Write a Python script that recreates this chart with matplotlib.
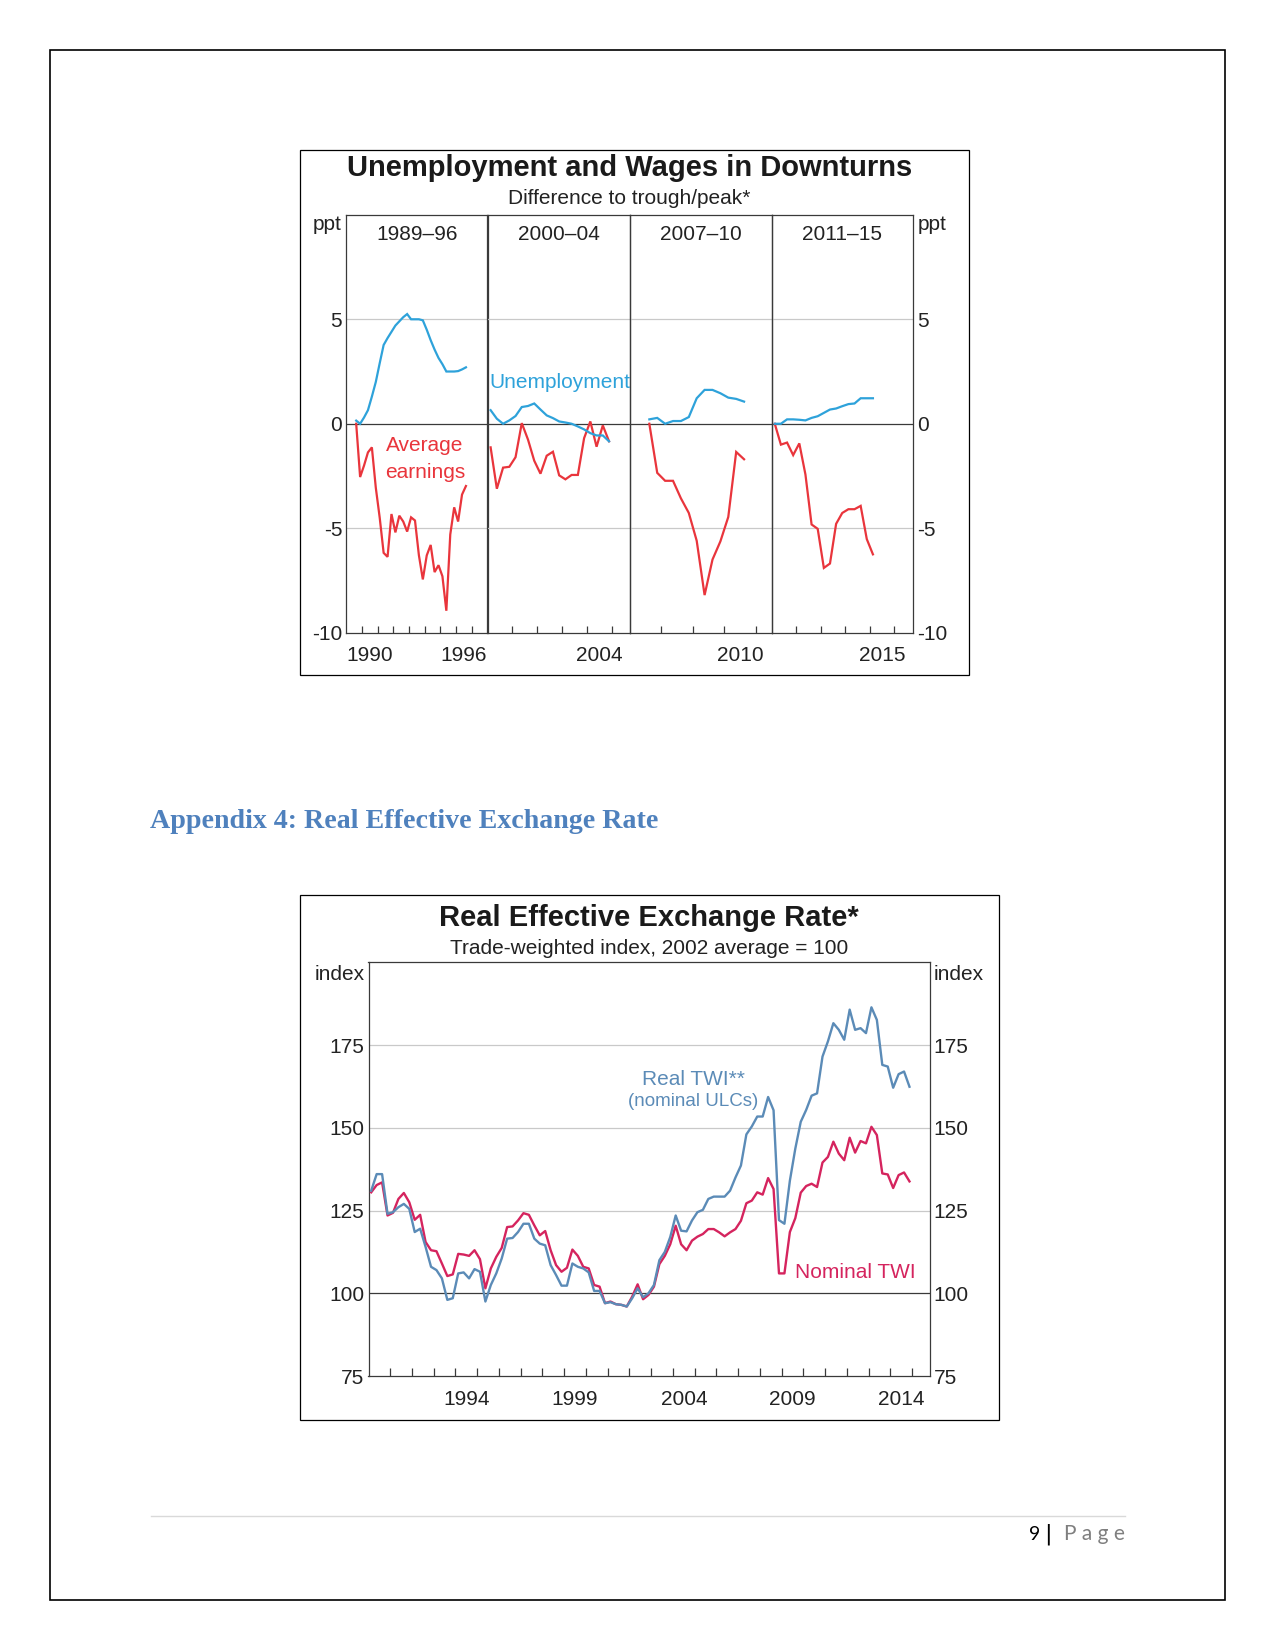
import matplotlib
matplotlib.use('Agg')
import matplotlib.pyplot as plt
from matplotlib.patches import Rectangle
from matplotlib.lines import Line2D

W, H = 1275, 1651
plt.rcParams['font.family'] = ['Liberation Sans', 'DejaVu Sans']

# ---------------- Chart 1 data: Unemployment and Wages in Downturns ----------------
panel_labels = ['1989–96', '2000–04', '2007–10', '2011–15']
panel_starts = [1989.625, 2000.125, 2007.625, 2011.125]  # first quarter (mid-quarter)
unemp_8996 = [0.15, 0.0, 0.3, 0.65, 1.3, 2.0, 2.9, 3.77, 4.1, 4.4, 4.7, 4.9, 5.1, 5.25,
              5.0, 5.0, 5.0, 4.95, 4.5, 4.0, 3.55, 3.15, 2.85, 2.5, 2.5, 2.5, 2.52, 2.6, 2.7]
earn_8996 = [0, -2.55, -2.0, -1.37, -1.13, -3.06, -4.5, -6.18, -6.37, -4.32, -5.2, -4.4,
             -4.68, -5.16, -4.48, -4.63, -6.3, -7.45, -6.3, -5.8, -7.1, -6.77, -7.3, -8.95,
             -5.3, -4.0, -4.68, -3.39, -2.98]
unemp_0004 = [0.65, 0.24, 0.0, 0.16, 0.37, 0.8, 0.85, 0.97, 0.68, 0.4, 0.27, 0.11, 0.06,
              0.0, -0.13, -0.27, -0.45, -0.56, -0.56, -0.84]
earn_0004 = [-1.13, -3.11, -2.1, -2.06, -1.6, 0.03, -0.76, -1.77, -2.39, -1.53, -1.34,
             -2.47, -2.66, -2.45, -2.45, -0.69, 0.11, -1.1, -0.08, -0.84]
unemp_0710 = [0.21, 0.28, 0.0, 0.13, 0.13, 0.32, 1.22, 1.62, 1.62, 1.46, 1.25, 1.19, 1.06]
earn_0710 = [0.0, -2.35, -2.73, -2.73, -3.57, -4.27, -5.6, -8.2, -6.5, -5.63, -4.46, -1.35, -1.7]
unemp_1115 = [0, 0, 0.21, 0.21, 0.19, 0.16, 0.28, 0.36, 0.52, 0.68, 0.73, 0.84, 0.94, 0.97,
              1.22, 1.22, 1.22]
earn_1115 = [0, -1.0, -0.9, -1.5, -0.94, -2.43, -4.82, -5.03, -6.9, -6.69, -4.79, -4.27,
             -4.09, -4.09, -3.93, -5.52, -6.25]
panel_xlims = [(1989, 1998), (2000, 2005.7), (2007, 2011.5), (2011, 2016.75)]
panel_year_ticks = [list(range(1990, 1998)), list(range(2001, 2006)),
                    list(range(2008, 2012)), list(range(2012, 2017))]
panel_year_labels = [['1990', '1996'], ['2004'], ['2010'], ['2015']]
c1_yticks = [-10, -5, 0, 5]
c1_yticklabels = ['-10', '-5', '0', '5']

# ---------------- Chart 2 data: Real Effective Exchange Rate ----------------
twi_start = 1990.125  # 1990 Q1, quarterly to 2014 Q4
real_twi = [131, 136, 136, 124, 124.5, 126, 127, 125.5, 118.5, 119.5, 114, 108, 107, 104.5,
            98, 98.5, 106, 106.3, 104.5, 107.3, 106.5, 97.5, 102.5, 106, 110.5, 116.5, 116.7,
            118.5, 121, 121, 116.5, 115, 114.5, 108.5, 105.5, 102.3, 102.3, 109, 108, 107.5,
            106.3, 100.7, 100.7, 97, 97.3, 96.7, 96.5, 96, 98.5, 101.5, 98.8, 100, 102.5,
            110, 112.5, 117, 123.5, 118.9, 118.7, 122, 124.5, 125.2, 128.5, 129.2, 129.2,
            129.2, 131, 135, 138.6, 148, 150.4, 153.4, 153.4, 159.3, 155.3, 122.1, 121, 134,
            143.7, 151.8, 155.4, 159.7, 160.4, 171.5, 176.1, 181.6, 179.6, 176.6, 185.7,
            179.6, 180.1, 178.6, 186.4, 182.6, 169, 168.5, 162.1, 166.2, 167, 162.4]
nominal_twi = [130.5, 132.7, 133.5, 123.5, 124.3, 128.5, 130.3, 127.5, 122.2, 123.7, 115.5,
               113, 112.7, 109, 105.2, 105.7, 111.9, 111.7, 111.3, 113, 110.3, 101.5, 107.5,
               111, 113.7, 120, 120.2, 122, 124.2, 123.7, 120.5, 117.5, 118.8, 113, 108.5,
               106.5, 107.7, 113.2, 111.3, 108, 107.5, 102.5, 102, 97, 97.5, 96.7, 96.5, 96,
               99, 102.7, 98.2, 99.5, 102, 108.8, 111.3, 114.8, 120.4, 114.8, 113, 115.9,
               117.1, 117.9, 119.4, 119.4, 118.4, 117.2, 118.4, 119.4, 121.9, 127.2, 128,
               130.5, 129.8, 134.8, 131.5, 106, 106, 118.5, 122.7, 130.4, 132.4, 133.1, 132.1,
               139.5, 141.2, 145.8, 142.2, 140.2, 147, 142.5, 146, 145.3, 150.3, 147.8, 136.2,
               135.9, 131.8, 135.7, 136.5, 133.8]
c2_year_ticks = list(range(1991, 2016))
c2_year_labels = ['1994', '1999', '2004', '2009', '2014']
c2_yticks = [75, 100, 125, 150, 175]

# ---------------- styling ----------------
C1_BLUE = '#2EA2DA'
C1_RED = '#E9353C'
C2_BLUE = '#5B8BB7'
C2_RED = '#D5245E'
AX_COL = '#3a3a3a'
GRID_COL = '#c9c9c9'
TXT = '#222222'

fig = plt.figure(figsize=(W / 100, H / 100), dpi=100, facecolor='white')


def add_ax(x0, y0, x1, y1):
    return fig.add_axes([x0 / W, 1 - y1 / H, (x1 - x0) / W, (y1 - y0) / H])


def fx(x):
    return x / W


def fy(y):
    return 1 - y / H


def frame(x0, y0, x1, y1, lw=0.9):
    fig.add_artist(Rectangle((fx(x0), fy(y1)), (x1 - x0) / W, (y1 - y0) / H,
                             transform=fig.transFigure, fill=False, lw=lw, ec='black'))


# page border
frame(50.5, 50.5, 1224.5, 1599.5, lw=1.2)

# ================= Chart 1 =================
frame(300, 150.5, 969, 675)
edges = [346.4, 487.5, 629.6, 771.7, 912.8]
c1_top, c1_bot = 214.8, 632.7
fig.text(fx(629.6), fy(168.3), 'Unemployment and Wages in Downturns', ha='center',
         va='center', fontsize=21, fontweight='bold', color='#1a1a1a')
fig.text(fx(629.6), fy(198), 'Difference to trough/peak*', ha='center', va='center',
         fontsize=15, color=TXT)
fig.text(fx(342), fy(224), 'ppt', ha='right', va='center', fontsize=15, color=TXT)
fig.text(fx(918), fy(224), 'ppt', ha='left', va='center', fontsize=15, color=TXT)

unemp_series = [unemp_8996, unemp_0004, unemp_0710, unemp_1115]
earn_series = [earn_8996, earn_0004, earn_0710, earn_1115]
axes1 = []
for k in range(4):
    ax = add_ax(edges[k], c1_top, edges[k + 1], c1_bot)
    axes1.append(ax)
    ax.set_xlim(*panel_xlims[k])
    ax.set_ylim(-10, 10)
    for g in (5, -5):
        ax.axhline(g, color=GRID_COL, lw=0.9, zorder=1)
    ax.axhline(0, color=AX_COL, lw=0.9, zorder=2)
    t_u = [panel_starts[k] + 0.25 * i for i in range(len(unemp_series[k]))]
    t_e = [panel_starts[k] + 0.25 * i for i in range(len(earn_series[k]))]
    ax.plot(t_e, earn_series[k], color=C1_RED, lw=1.6, zorder=3,
            solid_joinstyle='miter')
    ax.plot(t_u, unemp_series[k], color=C1_BLUE, lw=1.6, zorder=4,
            solid_joinstyle='miter')
    for s in ax.spines.values():
        s.set_color(AX_COL)
        s.set_linewidth(0.9)
    ax.set_xticks(panel_year_ticks[k])
    ax.set_xticklabels([])
    ax.set_xticks([float(v) + 0.5 for v in panel_year_labels[k]], minor=True)
    ax.set_xticklabels(panel_year_labels[k], minor=True)
    ax.tick_params(axis='x', which='major', direction='in', length=5, width=0.9,
                   color=AX_COL, labelbottom=False)
    ax.tick_params(axis='x', which='minor', length=0, pad=9.5, labelsize=15,
                   labelcolor=TXT, labelbottom=True)
    ax.set_yticks(c1_yticks)
    if k == 0:
        ax.set_yticklabels(c1_yticklabels)
        ax.tick_params(axis='y', length=0, pad=3, labelsize=15, labelcolor=TXT)
    elif k == 3:
        ax.yaxis.tick_right()
        ax.set_yticklabels(c1_yticklabels)
        ax.tick_params(axis='y', length=0, pad=3, labelsize=15, labelcolor=TXT,
                       labelright=True, labelleft=False)
    else:
        ax.set_yticklabels([])
        ax.tick_params(axis='y', length=0)
    ax.text(0.5, 0.953, panel_labels[k], transform=ax.transAxes, ha='center',
            va='center', fontsize=15, color=TXT)
    ax.set_facecolor('none')

axes1[1].text(panel_xlims[1][0] + 0.08, 1.98, 'Unemployment', color=C1_BLUE,
              fontsize=15, ha='left', va='center', zorder=5)
axes1[0].text(1994.0, -1.03, 'Average', color=C1_RED, fontsize=15, ha='center',
              va='center')
axes1[0].text(1994.0, -2.34, 'earnings', color=C1_RED, fontsize=15, ha='center',
              va='center')

# ================= Heading =================
head = fig.text(fx(150.5), fy(822), 'Appendix 4: Real Effective Exchange Rate',
                ha='left', va='center', fontsize=18, fontweight='bold',
                family=['Liberation Serif', 'DejaVu Serif'], color='#4F81BD')
fig.canvas.draw()
bb = head.get_window_extent(renderer=fig.canvas.get_renderer())
head.set_fontsize(18 * 509.0 / bb.width)

# ================= Chart 2 =================
frame(300, 895, 999, 1420)
ax2 = add_ax(368.5, 962.3, 929.6, 1376)
fig.text(fx(649), fy(918), 'Real Effective Exchange Rate*', ha='center', va='center',
         fontsize=21, fontweight='bold', color='#1a1a1a')
fig.text(fx(649), fy(948), 'Trade-weighted index, 2002 average = 100', ha='center',
         va='center', fontsize=15, color=TXT)
fig.text(fx(365), fy(974), 'index', ha='right', va='center', fontsize=15, color=TXT)
fig.text(fx(934), fy(974), 'index', ha='left', va='center', fontsize=15, color=TXT)

ax2.set_xlim(1990, 2015.8)
ax2.set_ylim(75, 200)
for g in (125, 150, 175):
    ax2.axhline(g, color=GRID_COL, lw=0.9, zorder=1)
ax2.axhline(100, color=AX_COL, lw=0.9, zorder=2)
t2 = [twi_start + 0.25 * i for i in range(len(real_twi))]
ax2.plot(t2, nominal_twi, color=C2_RED, lw=1.7, zorder=3)
ax2.plot(t2, real_twi, color=C2_BLUE, lw=1.7, zorder=4)
for s in ax2.spines.values():
    s.set_color(AX_COL)
    s.set_linewidth(0.9)
ax2.set_xticks(c2_year_ticks)
ax2.set_xticklabels([])
ax2.set_xticks([float(v) + 0.5 for v in c2_year_labels], minor=True)
ax2.set_xticklabels(c2_year_labels, minor=True)
ax2.tick_params(axis='x', which='major', direction='in', length=6, width=0.9,
                color=AX_COL, labelbottom=False)
ax2.tick_params(axis='x', which='minor', length=0, pad=10, labelsize=15,
                labelcolor=TXT, labelbottom=True)
ax2.set_yticks(c2_yticks)
ax2.set_yticklabels([str(v) for v in c2_yticks])
ax2.tick_params(axis='y', length=0, pad=3, labelsize=15, labelcolor=TXT,
                left=True, right=True, labelleft=True, labelright=True)
ax2.set_facecolor('none')

ax2.text(2004.92, 164.6, 'Real TWI**', color=C2_BLUE, fontsize=15, ha='center',
         va='center')
ax2.text(2004.92, 157.8, '(nominal ULCs)', color=C2_BLUE, fontsize=13.5, ha='center',
         va='center')
ax2.text(2009.6, 106.3, 'Nominal TWI', color=C2_RED, fontsize=15, ha='left',
         va='center')

# ================= Footer =================
fig.add_artist(Line2D([fx(150.5), fx(1124.5)], [fy(1516), fy(1516)],
                      transform=fig.transFigure, color='#d9d9d9', lw=1.0))
fig.text(fx(1035), fy(1534), '9', ha='center', va='center', fontsize=14,
         family=['Lato', 'DejaVu Sans'], color='black')
fig.text(fx(1048), fy(1534), '|', ha='center', va='center', fontsize=16,
         family=['DejaVu Sans'], color='black')
fig.text(fx(1125), fy(1534), 'P a g e', ha='right', va='center', fontsize=15,
         family=['Lato', 'DejaVu Sans'], color='#7f7f7f')

fig.savefig('out.png', dpi=100, facecolor='white')
